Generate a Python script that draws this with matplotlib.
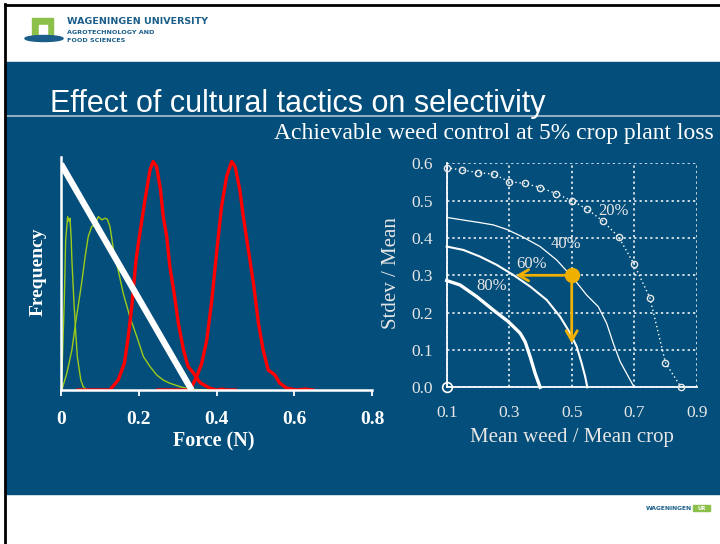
import matplotlib
matplotlib.use("Agg")
import matplotlib.pyplot as plt
from matplotlib.patches import Rectangle, Ellipse

BLUE = "#034E7A"
GREEN = "#9CCB19"
ORANGE = "#F0B000"
LIGHT = "#E6E6E6"
SERIF = ["Liberation Serif", "DejaVu Serif"]
NARROW = ["Liberation Sans Narrow", "Liberation Sans", "DejaVu Sans"]

# ---- left chart: force distributions (frequency, arbitrary units) ----
force_ticks = [0, 0.2, 0.4, 0.6, 0.8]
force_ticklabels = ["0", "0.2", "0.4", "0.6", "0.8"]

weed1_x = [0, 0.003, 0.0085, 0.012, 0.015, 0.017, 0.021, 0.023, 0.026, 0.028, 0.033,
           0.038, 0.042, 0.047, 0.051, 0.057, 0.066]
weed1_y = [0, 0.104, 0.4, 0.667, 0.726, 0.770, 0.748, 0.763, 0.681, 0.578, 0.4,
           0.252, 0.148, 0.089, 0.044, 0.015, 0]

weed2_x = [0.002, 0.015, 0.028, 0.040, 0.053, 0.062, 0.070, 0.079, 0.087, 0.096, 0.105,
           0.113, 0.119, 0.126, 0.135, 0.147, 0.160, 0.177, 0.195, 0.212, 0.229, 0.246,
           0.263, 0.280, 0.306, 0.332, 0.383]
weed2_y = [0, 0.074, 0.178, 0.326, 0.474, 0.592, 0.681, 0.726, 0.733, 0.770, 0.756,
           0.763, 0.759, 0.726, 0.622, 0.533, 0.430, 0.326, 0.237, 0.148, 0.104, 0.067,
           0.044, 0.030, 0.015, 0.003, 0]

crop1_x = [0.044, 0.126, 0.147, 0.163, 0.173, 0.182, 0.193, 0.203, 0.216, 0.229, 0.237,
           0.246, 0.256, 0.263, 0.272, 0.280, 0.291, 0.302, 0.315, 0.327, 0.340, 0.358,
           0.383, 0.400, 0.414, 0.424, 0.448]
crop1_y = [0, 0, 0.044, 0.119, 0.237, 0.370, 0.578, 0.698, 0.844, 0.978, 1.015,
           0.992, 0.889, 0.770, 0.681, 0.548, 0.430, 0.296, 0.178, 0.104, 0.077, 0.032,
           0.008, 0, 0.004, 0, 0]

crop2_x = [0.249, 0.332, 0.349, 0.362, 0.375, 0.388, 0.401, 0.413, 0.426, 0.439, 0.448,
           0.460, 0.469, 0.482, 0.495, 0.508, 0.520, 0.533, 0.550, 0.563, 0.581, 0.606,
           0.628, 0.648]
crop2_y = [0, 0, 0.059, 0.119, 0.222, 0.400, 0.622, 0.815, 0.948, 1.015, 0.992,
           0.889, 0.770, 0.622, 0.474, 0.296, 0.178, 0.089, 0.067, 0.030, 0.008, 0,
           0.004, 0]

threshold_x = [0, 0.336]
threshold_y = [1.004, 0]

# ---- right chart: achievable weed control ----
ratio_ticks = [0.1, 0.3, 0.5, 0.7, 0.9]
cv_ticks = [0.0, 0.1, 0.2, 0.3, 0.4, 0.5, 0.6]

c20_x = [0.10, 0.15, 0.20, 0.25, 0.30, 0.35, 0.40, 0.45, 0.50, 0.55, 0.60, 0.65, 0.70,
         0.75, 0.80, 0.85]
c20_y = [0.588, 0.582, 0.575, 0.571, 0.551, 0.546, 0.535, 0.519, 0.500, 0.477, 0.445,
         0.403, 0.329, 0.240, 0.066, 0.0]

c40_x = [0.10, 0.153, 0.207, 0.249, 0.292, 0.345, 0.399, 0.452, 0.505, 0.548, 0.585,
         0.612, 0.633, 0.655, 0.681, 0.70]
c40_y = [0.455, 0.448, 0.441, 0.435, 0.423, 0.402, 0.377, 0.341, 0.292, 0.247, 0.216,
         0.171, 0.118, 0.069, 0.029, 0.0]

c60_x = [0.10, 0.153, 0.207, 0.26, 0.313, 0.367, 0.42, 0.463, 0.495, 0.516, 0.532,
         0.543, 0.55]
c60_y = [0.377, 0.368, 0.350, 0.328, 0.301, 0.270, 0.234, 0.189, 0.145, 0.109, 0.064,
         0.029, 0.0]

c80_x = [0.10, 0.143, 0.196, 0.249, 0.297, 0.335, 0.351, 0.367, 0.383, 0.399]
c80_y = [0.286, 0.274, 0.243, 0.207, 0.176, 0.145, 0.122, 0.082, 0.0375, 0.0]

curve_labels = ["20%", "40%", "60%", "80%"]
label_x = [0.633, 0.482, 0.372, 0.244]
label_y = [0.472, 0.383, 0.329, 0.270]

example_point = (0.5, 0.3)
read_weed_ratio = 0.322
read_cv = 0.118

fig = plt.figure(figsize=(7.2, 5.44), dpi=100)
fig.patch.set_facecolor("white")

# slide background / decorations
deco = fig.add_axes([0, 0, 1, 1])
deco.set_xlim(0, 720)
deco.set_ylim(544, 0)
deco.axis("off")
deco.add_patch(Rectangle((6, 62), 714, 432, color=BLUE, zorder=0))
deco.plot([6, 720], [116, 116], color="#A9C2D4", lw=1.2)
deco.plot([5, 5], [4, 544], color="black", lw=2)
deco.plot([5, 720], [5, 5], color="black", lw=2)
# top-left logo
deco.add_patch(Rectangle((32, 18), 21, 17, color="#8CC04B"))
deco.add_patch(Rectangle((39, 25), 8, 10, color="white"))
deco.add_patch(Ellipse((44, 38.5), 38, 6, color="#1B5E8A"))
deco.text(67, 22, "WAGENINGEN UNIVERSITY", fontsize=6.8, color="#1B5E8A",
          fontweight="bold", va="center", family="DejaVu Sans")
deco.text(67, 32, "AGROTECHNOLOGY AND", fontsize=4.6, color="#1B5E8A",
          fontweight="bold", va="center", family="DejaVu Sans")
deco.text(67, 41, "FOOD SCIENCES", fontsize=4.6, color="#1B5E8A",
          fontweight="bold", va="center", family="DejaVu Sans")
# bottom-right logo
deco.text(692, 508, "WAGENINGEN", fontsize=4.3, color="#1B5E8A",
          fontweight="bold", va="center", ha="right", family="DejaVu Sans")
deco.add_patch(Rectangle((693, 505), 17, 6, color="#8CC04B"))
deco.text(701.5, 508, "UR", fontsize=3.8, color="white", fontweight="bold",
          va="center", ha="center", family="DejaVu Sans")

deco.text(50, 104, "Effect of cultural tactics on selectivity", fontsize=22,
          color="white", va="center", ha="left", family=NARROW)
deco.text(714, 133, "Achievable weed control at 5% crop plant loss", fontsize=17,
          color="white", va="center", ha="right", family=SERIF)

# left chart
ax = fig.add_axes([61 / 720, 1 - 390 / 544, 311 / 720, 233 / 544])
ax.patch.set_alpha(0)
ax.plot(weed1_x, weed1_y, color=GREEN, lw=1.0)
ax.plot(weed2_x, weed2_y, color=GREEN, lw=1.0)
ax.plot(crop1_x, crop1_y, color="#FF0000", lw=2.4)
ax.plot(crop2_x, crop2_y, color="#FF0000", lw=2.4)
ax.plot(threshold_x, threshold_y, color="white", lw=4.5, solid_capstyle="butt")
ax.set_xlim(0, 0.8)
ax.set_ylim(0, 1.035)
for s in ["top", "right"]:
    ax.spines[s].set_visible(False)
for s in ["left", "bottom"]:
    ax.spines[s].set_color("white")
    ax.spines[s].set_linewidth(1.8)
ax.set_yticks([])
ax.set_xticks(force_ticks)
ax.set_xticklabels(force_ticklabels, family=SERIF, fontweight="bold", fontsize=14)
ax.tick_params(axis="x", colors="white", length=4, width=1.3, pad=11)
ax.set_xlabel("Force (N)", family=SERIF, fontweight="bold", fontsize=14.5, color="white")
ax.xaxis.set_label_coords(0.49, -0.222)
ax.xaxis.label.set_va("center")
ax.set_ylabel("Frequency", family=SERIF, fontweight="bold", fontsize=14, color="white")
ax.yaxis.set_label_coords(-0.074, 0.506)
ax.yaxis.label.set_va("center")

# right chart
ax2 = fig.add_axes([446.7 / 720, 1 - 387.3 / 544, 250 / 720, 224 / 544])
ax2.patch.set_alpha(0)
ax2.set_xlim(0.1, 0.9)
ax2.set_ylim(0, 0.6)
ax2.set_xticks(ratio_ticks)
ax2.set_xticklabels([f"{v:.1f}" for v in ratio_ticks])
ax2.set_yticks(cv_ticks)
ax2.set_yticklabels([f"{v:.1f}" for v in cv_ticks])
ax2.grid(True, color="white", linestyle=(0, (1.5, 2)), lw=1.1)
for s in ["top", "right"]:
    ax2.spines[s].set_visible(False)
for s in ["left", "bottom"]:
    ax2.spines[s].set_color("white")
    ax2.spines[s].set_linewidth(1.3)
ax2.tick_params(length=0, colors=LIGHT, labelsize=12.5)
ax2.tick_params(axis="x", pad=13)
ax2.tick_params(axis="y", pad=10)
for lab in ax2.get_xticklabels() + ax2.get_yticklabels():
    lab.set_family(SERIF)

ax2.plot(c20_x, c20_y, color="white", lw=1.0, linestyle=(0, (1, 2)),
         marker="o", markersize=4.5, markerfacecolor="none",
         markeredgecolor="#E8E8E8", markeredgewidth=1.0, clip_on=False, zorder=3)
ax2.plot([0.1], [0.0], marker="o", markersize=7, markerfacecolor="none",
         markeredgecolor="white", markeredgewidth=1.2, clip_on=False, zorder=3)
ax2.plot(c40_x, c40_y, color="white", lw=0.9, clip_on=False)
ax2.plot(c60_x, c60_y, color="white", lw=1.5, clip_on=False)
ax2.plot(c80_x, c80_y, color="white", lw=2.4, clip_on=False)
for t, lx, ly in zip(curve_labels, label_x, label_y):
    ax2.text(lx, ly, t, family=SERIF, fontsize=12, color=LIGHT,
             ha="center", va="center")

ax2.annotate("", xy=(read_weed_ratio, example_point[1]), xytext=example_point,
             arrowprops=dict(arrowstyle="->,head_length=0.7,head_width=0.4",
                             color=ORANGE, lw=2.0, shrinkA=0, shrinkB=0))
ax2.annotate("", xy=(example_point[0], read_cv), xytext=example_point,
             arrowprops=dict(arrowstyle="->,head_length=0.7,head_width=0.4",
                             color=ORANGE, lw=2.0, shrinkA=0, shrinkB=0))
ax2.plot([example_point[0]], [example_point[1]], marker="o", markersize=10,
         color=ORANGE, zorder=5)

ax2.set_xlabel("Mean weed / Mean crop", family=SERIF, fontsize=15, color=LIGHT)
ax2.xaxis.set_label_coords(0.5, -0.226)
ax2.xaxis.label.set_va("center")
ax2.set_ylabel("Stdev / Mean", family=SERIF, fontsize=15, color=LIGHT)
ax2.yaxis.set_label_coords(-0.219, 0.51)
ax2.yaxis.label.set_va("center")

fig.savefig("out.png", dpi=100)
